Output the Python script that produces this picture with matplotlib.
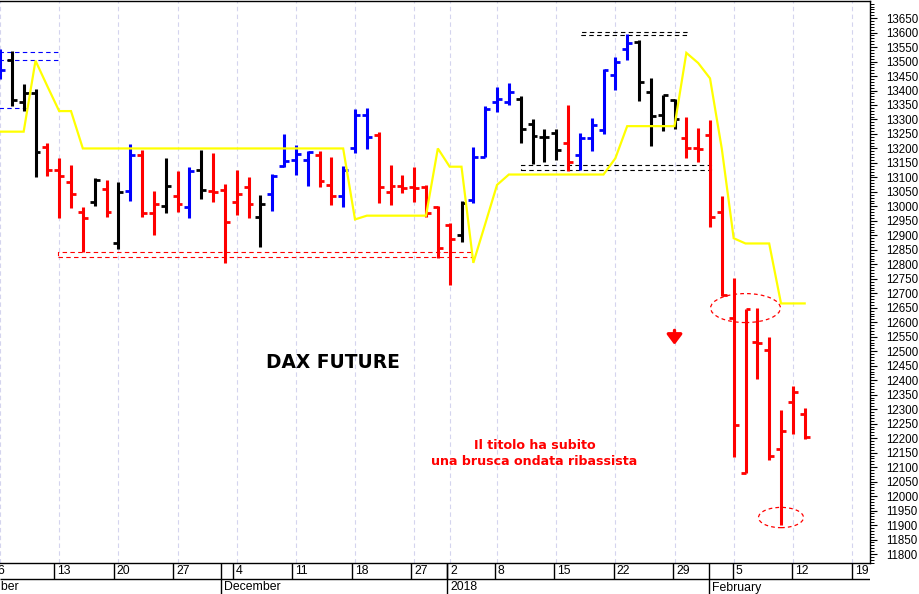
import matplotlib
matplotlib.use('Agg')
import matplotlib.pyplot as plt
from matplotlib.patches import Ellipse, Rectangle
import numpy as np

# ---------------- data ----------------
opens = [13450, 13507, 13361, 13390, 13206, 13125, 13085, 12982, 13016, 13059,
         12872, 13053, 13177, 12976, 13002, 13037, 12999, 13125, 13053, 13056,
         13014, 13068, 12964, 13043, 13140, 13160, 13160, 13177, 13074, 13036,
         13200, 13315, 13246, 13051, 13070, 13066, 13066, 12997, 12936, 12901,
         13022, 13169, 13361, 13361, 13369, 13286, 13238, 13254, 13218, 13177,
         13235, 13263, 13453, 13545, 13568, 13396, 13315, 13367, 13235, 13200,
         13246, 12982, 12614, 12079, 12533, 12504, 12161, 12324, 12282]
highs = [13545, 13537, 13421, 13404, 13220, 13168, 13143, 12999, 13097, 13091,
         13085, 13215, 13194, 13053, 13166, 13122, 13137, 13194, 13183, 13077,
         13125, 13102, 13039, 13112, 13250, 13212, 13192, 13192, 13169, 13141,
         13335, 13338, 13258, 13143, 13108, 13135, 13074, 13001, 12944, 13019,
         13206, 13346, 13411, 13425, 13381, 13300, 13266, 13266, 13350, 13252,
         13304, 13473, 13516, 13595, 13574, 13444, 13384, 13370, 13309, 13269,
         13298, 13037, 12752, 12645, 12650, 12550, 12297, 12381, 12305]
lows = [13440, 13346, 13330, 13102, 13105, 12959, 12995, 12843, 13001, 12962,
        12852, 13019, 12962, 12901, 12976, 12982, 12959, 13024, 13014, 12803,
        12972, 12959, 12859, 12985, 13137, 13108, 13070, 13066, 13005, 12997,
        13183, 13197, 13013, 13005, 13045, 13016, 12962, 12821, 12728, 12878,
        13010, 13169, 13327, 13350, 13220, 13146, 13154, 13160, 13122, 13125,
        13191, 13249, 13401, 13507, 13363, 13208, 13260, 13267, 13168, 13154,
        12930, 12690, 12136, 12079, 12404, 12124, 11900, 12214, 12197]
closes = [13470, 13367, 13392, 13189, 13125, 13105, 13043, 12959, 13091, 12982,
          13048, 13177, 12978, 13008, 13070, 13008, 13123, 13056, 13048, 12947,
          13042, 13008, 13008, 13106, 13155, 13180, 13189, 13087, 13036, 13125,
          13315, 13238, 13068, 13070, 13062, 13062, 12976, 12855, 12886, 13010,
          13169, 13335, 13369, 13396, 13266, 13243, 13238, 13194, 13154, 13235,
          13281, 13470, 13499, 13563, 13430, 13312, 13384, 13300, 13200, 13197,
          12962, 12694, 12245, 12645, 12529, 12138, 12226, 12358, 12203]
bar_colors = ['b', 'k', 'k', 'k', 'r', 'r', 'r', 'r', 'k', 'r',
              'k', 'b', 'r', 'r', 'k', 'r', 'b', 'k', 'r', 'r',
              'r', 'r', 'k', 'b', 'b', 'b', 'b', 'r', 'r', 'b',
              'b', 'b', 'r', 'r', 'r', 'r', 'r', 'r', 'r', 'k',
              'b', 'b', 'b', 'b', 'k', 'k', 'k', 'k', 'r', 'b',
              'b', 'b', 'b', 'b', 'k', 'k', 'k', 'k', 'r', 'r',
              'r', 'r', 'r', 'r', 'r', 'r', 'r', 'r', 'r']
indicator = [13258, 13258, 13258, 13503, 13415, 13329, 13329, 13200, 13200, 13200,
             13200, 13200, 13200, 13200, 13200, 13200, 13200, 13200, 13200, 13200,
             13200, 13200, 13200, 13200, 13200, 13200, 13200, 13200, 13200, 13200,
             12955, 12968, 12968, 12968, 12968, 12968, 12968, 13200, 13137, 13137,
             12805, 12939, 13074, 13110, 13110, 13110, 13110, 13110, 13110, 13110,
             13110, 13110, 13166, 13277, 13277, 13277, 13277, 13277, 13530, 13495,
             13442, 13198, 12890, 12872, 12872, 12872, 12665, 12665, 12665]

day_tick_idx = [0, 5, 10, 15, 20, 25, 30, 35, 38, 42, 47, 52, 57, 62, 67, 72]
day_tick_labels = ['6', '13', '20', '27', '4', '11', '18', '27', '2', '8',
                   '15', '22', '29', '5', '12', '19']
month_idx = [-3, 19, 38, 60]
month_labels = ['November', 'December', '2018', 'February']
price_labels = [11800, 11850, 11900, 11950, 12000, 12050, 12100, 12150, 12200,
                12250, 12300, 12350, 12400, 12450, 12500, 12550, 12600, 12650,
                12700, 12750, 12800, 12850, 12900, 12950, 13000, 13050, 13100,
                13150, 13200, 13250, 13300, 13350, 13400, 13450, 13500, 13550,
                13600, 13650]

blue_levels = [13532, 13505, 13338]
blue_ends = [4.92, 4.92, 2.2]
red_box = [4.92, 39.9, 12824, 12842]
black_box_low = [44.0, 60.07, 13127, 13144]
black_box_top = [49.07, 58.06, 13590, 13603]
ellipse_centers_x = [63.0, 66.0]
ellipse_centers_y = [12649, 11926]
ellipse_w = [5.9, 3.8]
ellipse_h = [100, 70]

# --------------- figure ----------------
W, H = 920, 594
fig = plt.figure(figsize=(W / 100, H / 100), dpi=100)
fig.patch.set_facecolor('white')

ax_right_px = 870
ax_top_px = 1
ax_bot_px = 563
ax = fig.add_axes([0, (H - ax_bot_px) / H, ax_right_px / W, (ax_bot_px - ax_top_px) / H])
XMIN, XMAX = 0.437, 73.52
YMIN, YMAX = 11769, 13709
ax.set_xlim(XMIN, XMAX)
ax.set_ylim(YMIN, YMAX)

cmap = {'k': '#000000', 'r': '#ff0000', 'b': '#0000ff'}
idx = np.arange(len(opens))
tl = 0.42
for i in idx:
    c = cmap[bar_colors[i]]
    ax.vlines(i, lows[i], highs[i], color=c, lw=2.2, zorder=3, capstyle='butt')
    ax.hlines(opens[i], i - tl, i, color=c, lw=2.0, zorder=3)
    ax.hlines(closes[i], i, i + tl, color=c, lw=2.0, zorder=3)

ax.plot(idx, indicator, color='#ffff00', lw=1.6, zorder=4, solid_joinstyle='miter')

dash = (0, (4, 3))
for lvl, xe in zip(blue_levels, blue_ends):
    ax.hlines(lvl, -3, xe, color='#0000ff', lw=0.8, linestyles=[dash], zorder=2)

for box, col in [(red_box, '#ff0000'), (black_box_low, '#000000'), (black_box_top, '#000000')]:
    r = Rectangle((box[0], box[2]), box[1] - box[0], box[3] - box[2], fill=False,
                  edgecolor=col, lw=0.8, linestyle=dash, zorder=2)
    ax.add_patch(r)

for cx, cy, ew, eh in zip(ellipse_centers_x, ellipse_centers_y, ellipse_w, ellipse_h):
    ax.add_patch(Ellipse((cx, cy), ew, eh, fill=False, edgecolor='#ff0000', lw=0.9,
                         linestyle=(0, (3, 2.5)), zorder=5))

# vertical grid
for t in day_tick_idx:
    ax.axvline(t, color='#d4d4ee', lw=0.8, linestyle=(0, (4, 3)), zorder=1)

# texts
ax.text(28.16, 12461, 'DAX FUTURE', fontsize=13.4, fontweight='bold', color='black',
        family='DejaVu Sans', ha='center', va='center', zorder=6)
ax.text(45.17, 12147, 'Il titolo ha subito\nuna brusca ondata ribassista', fontsize=9.1,
        fontweight='bold', color='#ff0000', family='DejaVu Sans', ha='center',
        va='center', linespacing=1.3, zorder=6)
ax.annotate('', xy=(57, 12522), xytext=(57, 12572),
            arrowprops=dict(arrowstyle='-|>,head_length=0.6,head_width=0.45', color='#ff0000',
                            lw=2.4, shrinkA=0, shrinkB=0, mutation_scale=10), zorder=6)

# axes styling
ax.set_xticks(day_tick_idx)
ax.tick_params(axis='x', length=0, labelbottom=False)
ax.yaxis.tick_right()
ax.set_yticks(price_labels)
ax.set_yticklabels([str(v) for v in price_labels])
ax.set_yticks(np.arange(11770, 13710, 10), minor=True)
ax.tick_params(axis='y', which='major', length=5, width=0.8, pad=6.3, labelsize=8.3,
               colors='black')
ax.tick_params(axis='y', which='minor', length=3, width=0.7)
for lab in ax.get_yticklabels():
    lab.set_family('Liberation Sans')
ax.spines['left'].set_visible(False)
for s in ['top', 'right', 'bottom']:
    ax.spines[s].set_color('black')
    ax.spines[s].set_linewidth(1.0)

# date axis
ax2 = fig.add_axes([0, 0, ax_right_px / W, (H - ax_bot_px) / H])
ax2.set_xlim(XMIN, XMAX)
ax2.set_ylim(0, 1)
ax2.axis('off')
row_y = (H - 579) / (H - ax_bot_px)
ax2.hlines(row_y, XMIN, XMAX, color='black', lw=1.0)
for t, lab in zip(day_tick_idx, day_tick_labels):
    ax2.vlines(t, row_y, 1, color='black', lw=1.0)
    ax2.text(t + 0.25, (H - 571) / (H - ax_bot_px), lab, fontsize=8.8,
             family='Liberation Sans', ha='left', va='center', clip_on=True)
for t, lab in zip(month_idx, month_labels):
    ax2.vlines(t, 0, 1, color='black', lw=1.0)
    ax2.text(t + 0.25, (H - 587.5) / (H - ax_bot_px), lab, fontsize=8.8,
             family='Liberation Sans', ha='left', va='center', clip_on=True)

fig.savefig('out.png', dpi=100, facecolor='white')
